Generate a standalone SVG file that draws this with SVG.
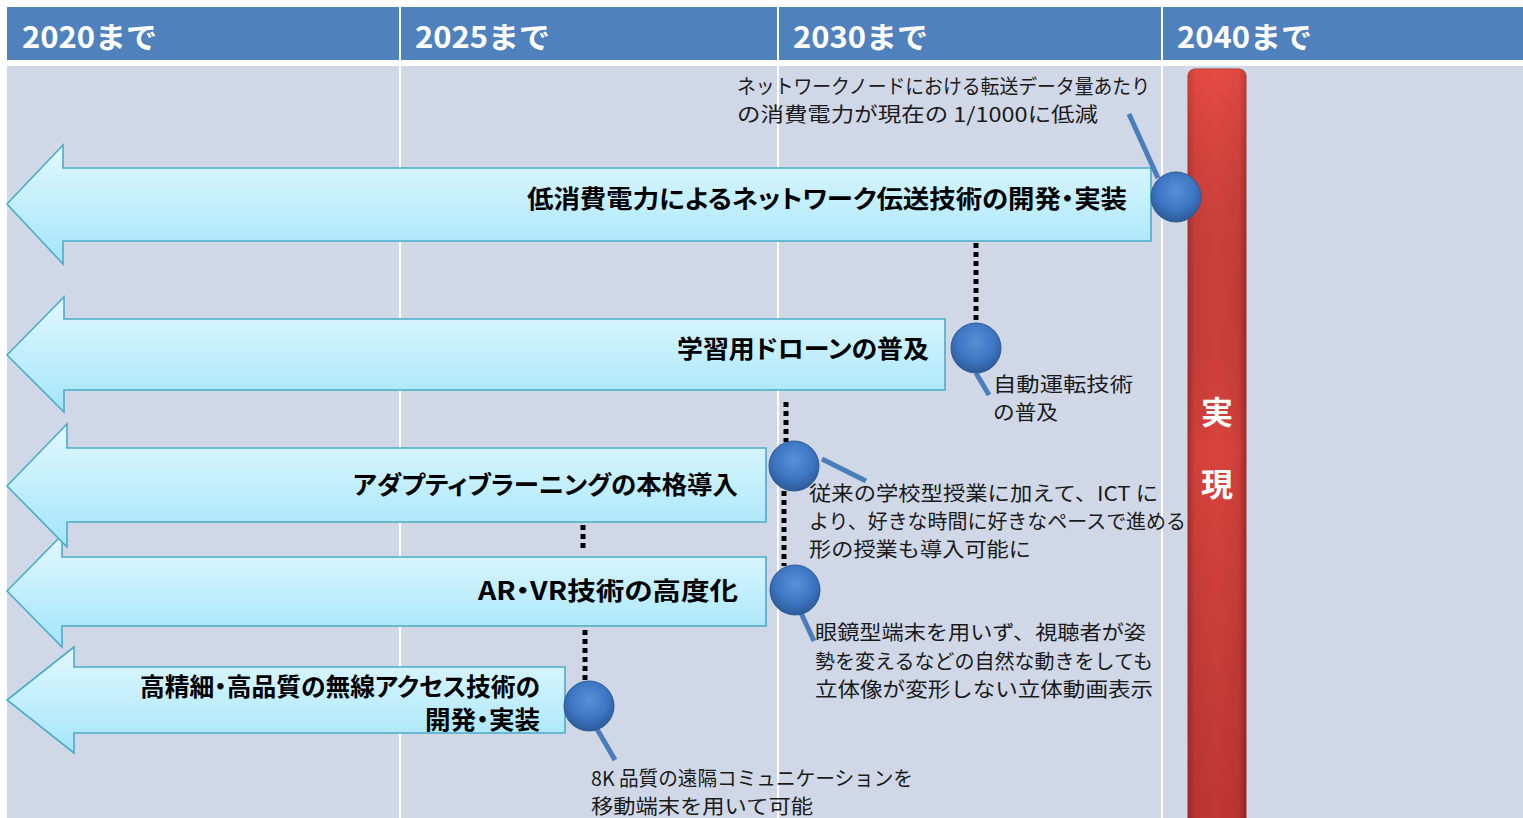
<svg xmlns="http://www.w3.org/2000/svg" width="1523" height="818" viewBox="0 0 1523 818">
<defs>
<style>
.hdr{fill:#4F81BD}
.body{fill:#D0D8E8}
.htxt{font-family:"Noto Sans CJK JP","Noto Sans",sans-serif;font-weight:700;font-size:30px;fill:#FFFFFF}
.arrow{fill:url(#arrowGrad);stroke:#4BACC6;stroke-width:1.6}
.atxt{font-family:"Noto Sans CJK JP",sans-serif;font-weight:700;font-size:25px;fill:#000000;text-anchor:end;font-feature-settings:"palt"}
.note{font-family:"Noto Sans CJK JP",sans-serif;font-weight:400;font-size:20px;fill:#1A1A1A}
.dot{stroke:#000000;stroke-width:5;stroke-dasharray:5 4;fill:none}
.lead{stroke:#4A7EBB;stroke-width:5;fill:none}
.ball{fill:url(#ballGrad);stroke:#2D5A93;stroke-width:1}
.rtxt{font-family:"Noto Sans CJK JP",sans-serif;font-weight:700;font-size:32px;fill:#FFFFFF;text-anchor:middle}
</style>
<linearGradient id="arrowGrad" x1="0" y1="0" x2="0" y2="1">
<stop offset="0" stop-color="#E2F8FF"/>
<stop offset="1" stop-color="#A3E5FA"/>
</linearGradient>
<radialGradient id="ballGrad" cx="0.5" cy="0.38" r="0.62">
<stop offset="0" stop-color="#5990D8"/>
<stop offset="0.6" stop-color="#3D76C2"/>
<stop offset="1" stop-color="#2C5A98"/>
</radialGradient>
<linearGradient id="barH" x1="0" y1="0" x2="1" y2="0">
<stop offset="0" stop-color="#A8302B"/>
<stop offset="0.12" stop-color="#D2403A"/>
<stop offset="0.5" stop-color="#DA443D"/>
<stop offset="0.88" stop-color="#CF3F39"/>
<stop offset="1" stop-color="#A02E29"/>
</linearGradient>
<linearGradient id="barV" x1="0" y1="0" x2="0" y2="1">
<stop offset="0" stop-color="#FF5A50" stop-opacity="0.35"/>
<stop offset="0.5" stop-color="#000000" stop-opacity="0"/>
<stop offset="1" stop-color="#400000" stop-opacity="0.18"/>
</linearGradient>
</defs>

<rect x="0" y="0" width="1523" height="818" fill="#FFFFFF"/>

<g id="table">
<rect class="hdr" x="7" y="7" width="392" height="53"/>
<rect class="hdr" x="401" y="7" width="376" height="53"/>
<rect class="hdr" x="779" y="7" width="382" height="53"/>
<rect class="hdr" x="1163" y="7" width="360" height="53"/>
<rect class="body" x="7" y="66" width="392" height="752"/>
<rect class="body" x="401" y="66" width="376" height="752"/>
<rect class="body" x="779" y="66" width="382" height="752"/>
<rect class="body" x="1163" y="66" width="360" height="752"/>
<text class="htxt" x="22" y="48" textLength="135" lengthAdjust="spacingAndGlyphs">2020まで</text>
<text class="htxt" x="415" y="48" textLength="135" lengthAdjust="spacingAndGlyphs">2025まで</text>
<text class="htxt" x="793" y="48" textLength="135" lengthAdjust="spacingAndGlyphs">2030まで</text>
<text class="htxt" x="1177" y="48" textLength="135" lengthAdjust="spacingAndGlyphs">2040まで</text>
</g>

<g id="goal-bar">
<rect x="1188" y="69" width="58" height="760" rx="7" fill="url(#barH)" stroke="#A5312C" stroke-width="1"/>
<rect x="1188" y="69" width="58" height="760" rx="7" fill="url(#barV)"/>
<text class="rtxt" x="1217" y="424">実</text>
<text class="rtxt" x="1217" y="496">現</text>
</g>

<g id="arrow-network">
<path class="arrow" d="M7,204 L63,145 L63,168 L1151,168 L1151,241 L63,241 L63,264 Z"/>
<text class="atxt" x="1127" y="208" textLength="600" lengthAdjust="spacingAndGlyphs">低消費電力によるネットワーク伝送技術の開発・実装</text>
</g>

<g id="arrow-drone">
<path class="arrow" d="M7,355 L64,297 L64,319 L945,319 L945,390 L64,390 L64,412 Z"/>
<text class="atxt" x="929" y="358" textLength="252" lengthAdjust="spacingAndGlyphs">学習用ドローンの普及</text>
</g>

<g id="arrow-arvr">
<path class="arrow" d="M7,591 L62,535 L62,557 L766,557 L766,626 L62,626 L62,647 Z"/>
<text class="atxt" x="738" y="600" textLength="260" lengthAdjust="spacingAndGlyphs">AR・VR技術の高度化</text>
</g>

<g id="arrow-adaptive">
<path class="arrow" d="M7,486 L67,424 L67,448 L766,448 L766,522 L67,522 L67,547 Z"/>
<text class="atxt" x="738" y="494" textLength="385" lengthAdjust="spacingAndGlyphs">アダプティブラーニングの本格導入</text>
</g>

<g id="arrow-wireless">
<path class="arrow" d="M7,700 L74,647 L74,667 L565,667 L565,733 L74,733 L74,753 Z"/>
<text class="atxt" x="540" y="696" textLength="400" lengthAdjust="spacingAndGlyphs">高精細・高品質の無線アクセス技術の</text>
<text class="atxt" x="540" y="729" textLength="115" lengthAdjust="spacingAndGlyphs">開発・実装</text>
</g>

<g id="connectors">
<line class="dot" x1="976" y1="243" x2="976" y2="322"/>
<line class="dot" x1="786" y1="402" x2="786" y2="442"/>
<line class="dot" x1="784" y1="491" x2="784" y2="566"/>
<line class="dot" x1="583" y1="525" x2="583" y2="552"/>
<line class="dot" x1="585" y1="630" x2="585" y2="682"/>
<line class="lead" x1="1129" y1="114" x2="1158" y2="178"/>
<line class="lead" x1="976" y1="373" x2="989" y2="395"/>
<line class="lead" x1="822" y1="459" x2="866" y2="481"/>
<line class="lead" x1="801" y1="613" x2="814" y2="641"/>
<line class="lead" x1="597" y1="729" x2="615" y2="760"/>
</g>

<g id="milestone-network">
<circle class="ball" cx="1176" cy="197" r="25"/>
<text class="note" x="737" y="94" textLength="413" lengthAdjust="spacingAndGlyphs">ネットワークノードにおける転送データ量あたり</text>
<text class="note" x="737" y="122" textLength="361" lengthAdjust="spacingAndGlyphs">の消費電力が現在の 1/1000に低減</text>
</g>

<g id="milestone-drone">
<circle class="ball" cx="976" cy="348" r="25"/>
<text class="note" x="993" y="392" textLength="140" lengthAdjust="spacingAndGlyphs">自動運転技術</text>
<text class="note" x="993" y="420" textLength="65" lengthAdjust="spacingAndGlyphs">の普及</text>
</g>

<g id="milestone-adaptive">
<circle class="ball" cx="794" cy="466" r="25"/>
<text class="note" x="809" y="501" textLength="349" lengthAdjust="spacingAndGlyphs">従来の学校型授業に加えて、ICT に</text>
<text class="note" x="809" y="529" textLength="377" lengthAdjust="spacingAndGlyphs">より、好きな時間に好きなペースで進める</text>
<text class="note" x="809" y="557" textLength="222" lengthAdjust="spacingAndGlyphs">形の授業も導入可能に</text>
</g>

<g id="milestone-arvr">
<circle class="ball" cx="795" cy="590" r="25"/>
<text class="note" x="815" y="640" textLength="331" lengthAdjust="spacingAndGlyphs">眼鏡型端末を用いず、視聴者が姿</text>
<text class="note" x="815" y="669" textLength="338" lengthAdjust="spacingAndGlyphs">勢を変えるなどの自然な動きをしても</text>
<text class="note" x="815" y="697" textLength="338" lengthAdjust="spacingAndGlyphs">立体像が変形しない立体動画表示</text>
</g>

<g id="milestone-wireless">
<circle class="ball" cx="589" cy="706" r="25"/>
<text class="note" x="591" y="786" textLength="322" lengthAdjust="spacingAndGlyphs">8K 品質の遠隔コミュニケーションを</text>
<text class="note" x="591" y="814" textLength="222" lengthAdjust="spacingAndGlyphs">移動端末を用いて可能</text>
</g>
</svg>
